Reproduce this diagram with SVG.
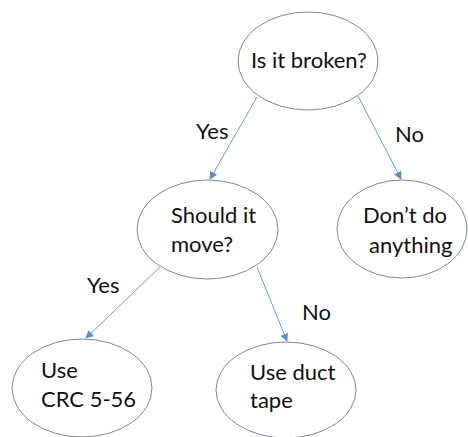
<svg xmlns="http://www.w3.org/2000/svg" width="468" height="437" viewBox="0 0 468 437">
<style>
.node ellipse{fill:#fff;stroke:#7f8790;stroke-width:1}
text{font-family:Lato,"Liberation Sans",Arial,sans-serif;font-size:22px;fill:#111}
.conn line{stroke:#6f9cc8;stroke-width:1}
</style>
<defs>
<marker id="ah" viewBox="0 0 10 10" refX="9" refY="5" markerWidth="8" markerHeight="8" markerUnits="userSpaceOnUse" orient="auto">
<path d="M0,0 L10,5 L0,10 z" fill="#5b8fc8"/>
</marker>
</defs>
<rect width="468" height="437" fill="#fff"/>
<g class="conn">
<line x1="257" y1="97" x2="210" y2="179" marker-end="url(#ah)"/>
<line x1="358" y1="96" x2="401" y2="179" marker-end="url(#ah)"/>
<line x1="160" y1="267" x2="86" y2="338" marker-end="url(#ah)"/>
<line x1="257" y1="267" x2="287" y2="341" marker-end="url(#ah)"/>
<text x="196" y="139">Yes</text>
<text x="395" y="142">No</text>
<text x="87" y="293">Yes</text>
<text x="302" y="320">No</text>
</g>
<g id="n1" class="node">
<ellipse cx="308" cy="61" rx="70" ry="49"/>
<text x="251" y="68">Is it broken?</text>
</g>
<g id="n2" class="node">
<ellipse cx="207.5" cy="229.5" rx="70.5" ry="49.5"/>
<text x="171" y="223">Should it</text>
<text x="171" y="252">move?</text>
</g>
<g id="n3" class="node">
<ellipse cx="402" cy="229" rx="65" ry="49"/>
<text x="363" y="223">Don’t do</text>
<text x="369" y="253">anything</text>
</g>
<g id="n4" class="node">
<ellipse cx="82" cy="388" rx="70" ry="49"/>
<text x="41" y="378">Use</text>
<text x="41" y="407">CRC 5-56</text>
</g>
<g id="n5" class="node">
<ellipse cx="286" cy="390" rx="70" ry="48"/>
<text x="250" y="380">Use duct</text>
<text x="250" y="408">tape</text>
</g>
</svg>
